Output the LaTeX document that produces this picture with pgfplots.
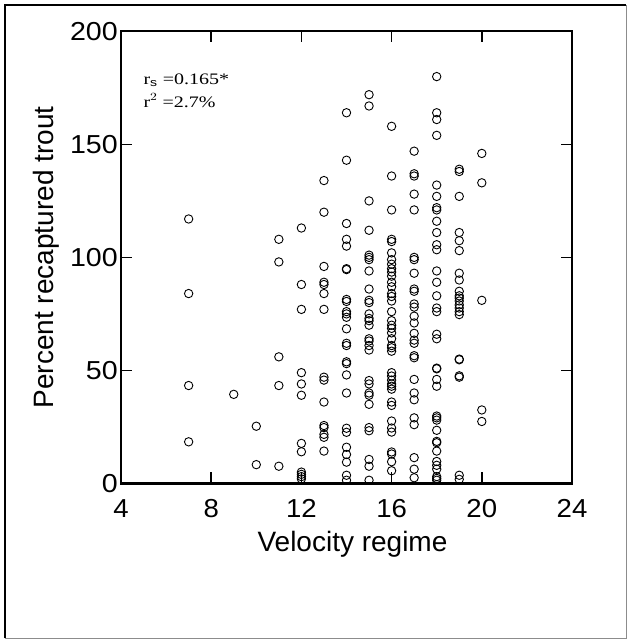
\documentclass[border=0pt]{standalone}
\usepackage{graphicx}
\usepackage{pgfplots}
\pgfplotsset{compat=1.18}
\usepackage{fontspec}
\setmainfont{Liberation Sans}
\newfontfamily\timesf{Liberation Serif}
\begin{document}
\begin{tikzpicture}
\useasboundingbox (-121pt,-155.6pt) rectangle (506pt,483.4pt);
\draw[line width=0.8pt, black!45] (-116pt,-154.8pt) -- (505.2pt,-154.8pt) -- (505.2pt,478.4pt);
\draw[line width=2pt, black] (-116pt,-154.8pt) -- (-116pt,478.4pt) -- (505.2pt,478.4pt);
\begin{axis}[
  at={(0,0)}, anchor=origin,
  scale only axis, width=451pt, height=452pt,
  xmin=4, xmax=24, ymin=0, ymax=200,
  xtick={4,8,12,16,20,24}, ytick={0,50,100,150,200},
  tick align=inside, major tick length=11pt,
  major tick style={draw=black, line width=1.6pt},
  axis line style={line width=2.2pt, black},
  /pgf/number format/assume math mode=true,
  tick label style={font=\fontsize{26}{26}\selectfont, inner sep=0pt},
  xticklabel={\scalebox{1.06}[1]{\pgfmathprintnumber{\tick}}},
  yticklabel={\scalebox{1.1}[1]{\pgfmathprintnumber{\tick}}},
  xticklabel style={anchor=north, yshift=-16pt},
  yticklabel style={anchor=east, xshift=-3pt},
  xlabel={Velocity regime}, ylabel={Percent recaptured trout},
  every axis x label/.style={font=\fontsize{28}{28}\selectfont, inner sep=0pt,
    at={(axis description cs:0.5,0)}, yshift=-68.3pt, xshift=6pt, anchor=base},
  every axis y label/.style={font=\fontsize{28}{28}\selectfont, inner sep=0pt,
    at={(axis description cs:0,0.5)}, xshift=-67.7pt, rotate=90, anchor=base},
  clip=false,
]
\addplot[only marks, mark=o, mark size=4.2pt, mark options={line width=0.9pt, black}] coordinates {
(7,117)(7,84)(7,43.3)(7,18.4)
(9,39.4)
(10,25.3)(10,8.3)
(11,108)(11,98)(11,56)(11,43.3)(11,7.6)
(12,113)(12,88)(12,77)(12,49)(12,44)(12,39)(12,17.7)(12,14)(12,5)(12,4)(12,3)(12,2)
(13,134)(13,120)(13,96)(13,89)(13,88)(13,84)(13,77)(13,47)(13,45.7)(13,36)(13,25.6)(13,24.7)(13,21.7)(13,20.4)(13,14.3)
(14,164)(14,143)(14,115)(14,108)(14,105)(14,95)(14,94.6)(14,81.4)(14,80.5)(14,76)(14,75)(14,73.5)(14,68.4)(14,62)(14,61)(14,53.8)(14,53)(14,48)(14,40)(14,24.4)(14,22.6)(14,16)(14,12.8)(14,9.4)(14,3.6)(14,1.4)
(15,172)(15,167)(15,125)(15,112)(15,101)(15,100)(15,99)(15,94)(15,86)(15,81)(15,80)(15,75)(15,73)(15,72)(15,70)(15,64)(15,63)(15,61)(15,59)(15,45.5)(15,44)(15,40)(15,39)(15,35)(15,24.7)(15,23.3)(15,10.6)(15,7.6)(15,1.4)
(16,158)(16,136)(16,121)(16,108)(16,107)(16,102)(16,99)(16,97)(16,95)(16,93.5)(16,91.7)(16,89)(16,87)(16,84)(16,82.7)(16,80.7)(16,76)(16,72)(16,70)(16,68.6)(16,66.6)(16,64)(16,61)(16,60)(16,58.5)(16,49)(16,47.5)(16,45.7)(16,44)(16,43)(16,41.7)(16,36)(16,34.5)(16,27.6)(16,24.5)(16,22.7)(16,13.9)(16,13)(16,9.6)(16,5.6)
(17,147)(17,137)(17,136)(17,128)(17,121)(17,100)(17,99)(17,93)(17,86)(17,85)(17,79.4)(17,78)(17,74)(17,71)(17,66.4)(17,63.4)(17,62)(17,56.5)(17,55.6)(17,46)(17,40)(17,37)(17,29)(17,26)(17,11.4)(17,6.3)(17,2.5)
(18,180)(18,164)(18,161)(18,154)(18,132)(18,127)(18,122)(18,121)(18,116)(18,111)(18,105.6)(18,103.4)(18,94)(18,89)(18,83)(18,77.6)(18,76)(18,66)(18,64)(18,51)(18,50.7)(18,46)(18,43)(18,29.8)(18,29)(18,28)(18,23.5)(18,18.6)(18,18)(18,14.3)(18,9.7)(18,8)(18,6.3)(18,3)(18,2.2)(18,1.4)
(19,139)(19,138)(19,127)(19,111)(19,107.4)(19,103)(19,93)(19,90)(19,85)(19,83)(19,82)(19,80.7)(19,79)(19,77.6)(19,76)(19,74.7)(19,55)(19,54.7)(19,47.6)(19,47)(19,3.6)(19,1.8)
(20,146)(20,133)(20,81)(20,32.5)(20,27.4)
};
% tick marks drawn as short segments in data units
\addplot[black, line width=1.6pt, no marks, forget plot] coordinates {(8,0)(8,4.9)};
\addplot[black, line width=1.6pt, no marks, forget plot] coordinates {(12,0)(12,4.9)};
\addplot[black, line width=1.6pt, no marks, forget plot] coordinates {(16,0)(16,4.9)};
\addplot[black, line width=1.6pt, no marks, forget plot] coordinates {(20,0)(20,4.9)};
\addplot[black, line width=1.6pt, no marks, forget plot] coordinates {(8,200)(8,195.1)};
\addplot[black, line width=1.6pt, no marks, forget plot] coordinates {(12,200)(12,195.1)};
\addplot[black, line width=1.6pt, no marks, forget plot] coordinates {(16,200)(16,195.1)};
\addplot[black, line width=1.6pt, no marks, forget plot] coordinates {(20,200)(20,195.1)};
\addplot[black, line width=1.6pt, no marks, forget plot] coordinates {(4,50)(4.49,50)};
\addplot[black, line width=1.6pt, no marks, forget plot] coordinates {(4,100)(4.49,100)};
\addplot[black, line width=1.6pt, no marks, forget plot] coordinates {(4,150)(4.49,150)};
\addplot[black, line width=1.6pt, no marks, forget plot] coordinates {(24,50)(23.51,50)};
\addplot[black, line width=1.6pt, no marks, forget plot] coordinates {(24,100)(23.51,100)};
\addplot[black, line width=1.6pt, no marks, forget plot] coordinates {(24,150)(23.51,150)};
\node[anchor=base west, font=\timesf\fontsize{16}{16}\selectfont, inner sep=0pt] at (axis cs:4.99,176.7) {\scalebox{1.25}[1]{r$_{\mathrm{s}}$ =0.165*}};
\node[anchor=base west, font=\timesf\fontsize{16}{16}\selectfont, inner sep=0pt] at (axis cs:4.99,166.5) {\scalebox{1.25}[1]{r$^{2}$ =2.7\%}};
\end{axis}
\end{tikzpicture}
\end{document}
